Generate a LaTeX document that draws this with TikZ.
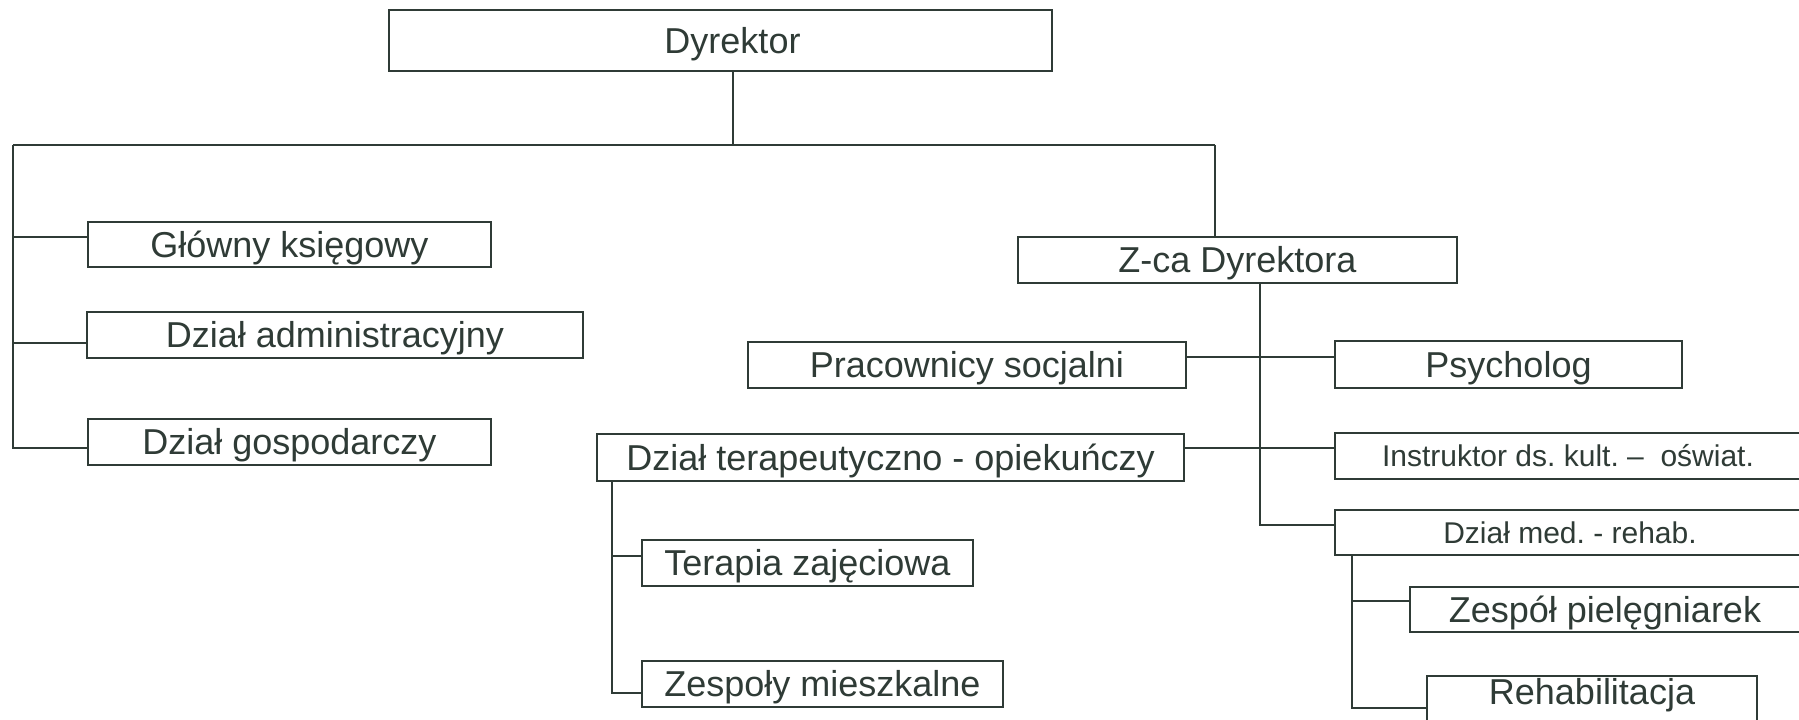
\documentclass[tikz,border=0pt]{standalone}
\usepackage{fontspec}
\setmainfont{Liberation Sans}
\frenchspacing
\definecolor{ink}{HTML}{2F3B36}
\begin{document}
\begin{tikzpicture}[x=1pt,y=-1pt,
  orgbox/.style={draw=ink,line width=1.9pt,inner sep=0pt,text=ink,
    font=\fontsize{36}{40}\selectfont,text height=25.8pt,text depth=0pt},
  smallbox/.style={orgbox,font=\fontsize{30}{34}\selectfont,text height=21.5pt},
  wire/.style={draw=ink,line width=1.9pt}]
\clip (0,0) rectangle (1799,720);
\fill[white] (0,0) rectangle (1799,720);
% nodes
\node[orgbox,minimum width=663pt,minimum height=61pt] (dyr) at (720.5,40.5) {\hspace*{24pt}Dyrektor};
\node[orgbox,minimum width=403pt,minimum height=45pt] (gk) at (289.5,244.5) {Główny księgowy};
\node[orgbox,minimum width=496pt,minimum height=46pt] (da) at (335,335) {Dział administracyjny};
\node[orgbox,minimum width=403pt,minimum height=46pt] (dg) at (289.5,442) {Dział gospodarczy};
\node[orgbox,minimum width=439pt,minimum height=46pt] (zd) at (1237.5,260) {Z-ca Dyrektora};
\node[orgbox,minimum width=438pt,minimum height=46pt] (ps) at (967,365) {Pracownicy socjalni};
\node[orgbox,minimum width=347pt,minimum height=47pt] (py) at (1508.5,364.5) {Psycholog};
\node[orgbox,minimum width=587pt,minimum height=47pt] (dt) at (890.5,457.5) {Dział terapeutyczno - opiekuńczy};
\node[smallbox,minimum width=466pt,minimum height=46pt] (in) at (1568,456) {Instruktor ds. kult. –\ \ oświat.};
\node[smallbox,minimum width=470pt,minimum height=45pt] (dm) at (1570,532.5) {Dział med. - rehab.};
\node[orgbox,minimum width=390pt,minimum height=45pt] (zp) at (1605,609.5) {Zespół pielęgniarek};
\node[orgbox,minimum width=330pt,minimum height=48pt,text depth=16pt] (rh) at (1592,700) {Rehabilitacja};
\node[orgbox,minimum width=331pt,minimum height=46pt] (tz) at (807.5,563) {Terapia zajęciowa};
\node[orgbox,minimum width=361pt,minimum height=46pt] (zm) at (822.5,684) {Zespoły mieszkalne};
% bus coordinates
\coordinate (top) at (733,145);
\coordinate (bl) at (13,145);
\coordinate (br) at (1215,145);
\coordinate (zbus) at (1260,525);
\coordinate (mbus) at (1352,708);
\coordinate (tbus) at (612,693);
% connectors
\draw[wire] (dyr.south -| top) -- (top);
\draw[wire] (bl) -- (br);
\draw[wire] (bl) -- (13,448) -- (dg.west |- 0,448);
\draw[wire] (13,237) -- (gk.west |- 0,237);
\draw[wire] (13,343) -- (da.west |- 0,343);
\draw[wire] (br) -- (zd.north -| br);
\draw[wire] (zd.south -| zbus) -- (zbus) -- (dm.west |- zbus);
\draw[wire] (ps.east |- 0,357) -- (py.west |- 0,357);
\draw[wire] (dt.east |- 0,448) -- (in.west |- 0,448);
\draw[wire] (dm.south -| mbus) -- (mbus) -- (rh.west |- mbus);
\draw[wire] (1352,601) -- (zp.west |- 0,601);
\draw[wire] (dt.south -| tbus) -- (tbus) -- (zm.west |- tbus);
\draw[wire] (612,556) -- (tz.west |- 0,556);
\end{tikzpicture}
\end{document}
